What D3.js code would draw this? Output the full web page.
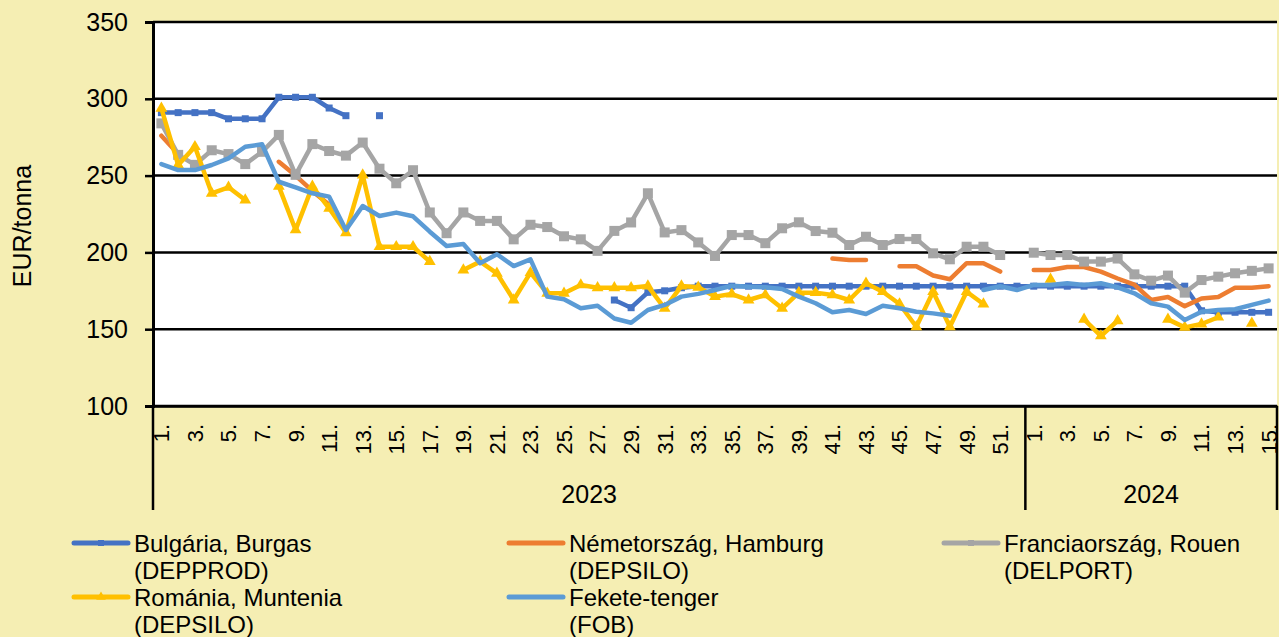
<!DOCTYPE html>
<html>
<head>
<meta charset="utf-8">
<script src="https://cdn.jsdelivr.net/npm/d3@7/dist/d3.min.js"></script>
<style>
  body { margin: 0; background: #f5eeb3; }
  svg { display: block; font-family: "Liberation Sans", Arial, sans-serif; }
</style>
</head>
<body>
<svg id="chart" width="1279" height="637"></svg>
<script>
// categories: weeks of 2023 and 2024
const years = ["2023", "2024"];
const weeks2023 = d3.range(1, 53);
const weeks2024 = d3.range(1, 16);
const yTicks = [100, 150, 200, 250, 300, 350];

// EUR/tonna (null = no quote that week)
const bulgaria2023 = [291, 291, 291, 291, 287, 287, 287, 301, 301, 301, 294, 289, null, 289,
  null, null, null, null, null, null, null, null, null, null, null, null, null,
  169, 164, 174, 175, 177,
  178, 178, 178, 178, 178, 178, 178, 178, 178, 178, 178, 178, 178, 178, 178, 178, 178, 178, 178, 178];
const bulgaria2024 = [178, 178, 178, 178, 178, 178, 178, 178, 178, 178, 162, 161, 161, 161, 161];

const hamburg2023 = [276, 264, null, null, null, null, null, 259, 250, 240, 231,
  null, null, null, null, null, null, null, null, null, null, null, null, null, null, null,
  null, null, null, null, null, null, null, null, null, null, null, null, null, null,
  196, 195, 195, null, 191, 191, 185, 182.5, 193, 193, 187.5, null];
const hamburg2024 = [188.5, 188.5, 190.5, 190.5, 187.5, 183, 179, 169, 171, 165, 170, 171, 177, 177, 178];

const rouen2023 = [284, 263.5, 257, 266.5, 264, 257.5, 265.5, 276.5, 250.5, 270.5, 266, 263, 271.5,
  254.5, 245, 253.5, 226, 212.5, 226, 220.5, 220.5, 208.5, 218, 216.5, 210.5, 208.5, 201, 214,
  219.5, 238.5, 213, 214.5, 206.5, 197.7, 211.3, 211.3, 206, 215.7, 219.6, 213.9, 212.8, 204.8,
  210.2, 204.8, 208.7, 208.7, 199.4, 195.5, 203.7, 203.7, 198.3, null];
const rouen2024 = [199.8, 198.3, 198.3, 194, 194, 196, 185.7, 181.6, 184.9, 173.8, 182, 184.2, 186.4, 188, 189.6];

const muntenia2023 = [293.8, 257, 268.8, 238.5, 242.4, 234.1, null, 243, 214.6, 243, 228.7, 212.8,
  250.4, 203.7, 203.7, 203.7, 194, null, 188.5, 194, 186.4, 169, 186.8, 173.4, 173.4, 178.8, 177,
  177, 177, 178.1, 163.6, 178.1, 177.3, 171.2, 172.9, 169, 172.3, 163.6, 173.8, 173.8, 172.3, 169,
  179.9, 174.4, 166.4, 151.6, 174.4, 151.6, 174.4, 166.4, null, null];
const muntenia2024 = [null, 182.5, null, 156.4, 145.6, 155.5, null, null, 156.4, 151.2, 153.4, 157.8, null, 153.8, null];

const fekete2023 = [257.5, 253.6, 253.6, 256.9, 261.2, 268.8, 270.4, 246, 242.4, 238.5, 236.3, 214.6,
  230.2, 223.7, 225.9, 223.5, 213.5, 204.2, 205.5, 192.9, 198.8, 191.1, 195.5, 171.2, 169.5, 163.6,
  165.3, 157, 154.2, 162.5, 165.8, 171.2, 173, 175.5, 178.3, 177.7, 177.3, 176.2, 171.2, 166.9, 161,
  162.5, 159.9, 165.3, 163.6, 161.4, 160.3, 158.8, null, 175.5, 178, 175.5];
const fekete2024 = [178.8, 178.8, 179.9, 178.8, 179.9, 177.3, 173.4, 166.9, 164.7, 156, 161.4, 162.5, 163, 165.8, 168.6];

const seriesNames = [
  ["Bulgária, Burgas", "(DEPPROD)"],
  ["Németország, Hamburg", "(DEPSILO)"],
  ["Franciaország, Rouen", "(DELPORT)"],
  ["Románia, Muntenia", "(DEPSILO)"],
  ["Fekete-tenger", "(FOB)"]
];

// build category list + series table
const cats = weeks2023.map(w => ({year: years[0], week: w}))
  .concat(weeks2024.map(w => ({year: years[1], week: w})));
cats.forEach((c, i) => c.key = i);

const styles = [
  {color: "#4472c4", marker: "square", size: 7},
  {color: "#ed7d31", marker: null},
  {color: "#a5a5a5", marker: "square", size: 10},
  {color: "#ffc000", marker: "triangle", size: 60},
  {color: "#5b9bd5", marker: null}
];
const series = [
  bulgaria2023.concat(bulgaria2024),
  hamburg2023.concat(hamburg2024),
  rouen2023.concat(rouen2024),
  muntenia2023.concat(muntenia2024),
  fekete2023.concat(fekete2024)
].map((vals, i) => ({
  name: seriesNames[i],
  style: styles[i],
  values: vals.map((v, j) => ({i: j, v: v}))
}));

// layout
const svg = d3.select("#chart");
const plotL = 153, plotR = 1277, plotT = 22, plotB = 406;

svg.append("rect").attr("width", 1279).attr("height", 637).attr("fill", "#f5eeb3");
svg.append("rect")
  .attr("x", plotL).attr("y", plotT)
  .attr("width", plotR - plotL).attr("height", plotB - plotT)
  .attr("fill", "#fff");

let x = d3.scaleBand().domain(cats.map(c => c.key)).range([plotL, plotR]);
let cx = i => x(i) + x.bandwidth() / 2;
let y = d3.scaleLinear().domain([100, 350]).range([plotB, plotT]);

// gridlines
svg.append("g").selectAll("line")
  .data(yTicks)
  .join("line")
  .attr("x1", plotL).attr("x2", plotR)
  .attr("y1", d => y(d)).attr("y2", d => y(d))
  .attr("stroke", "#000").attr("stroke-width", 2.5);

// y axis
let yAxis = svg.append("g")
  .attr("transform", `translate(${plotL},0)`)
  .call(d3.axisLeft(y).tickValues(yTicks).tickSize(8).tickPadding(17).tickFormat(d3.format("d")));
yAxis.select(".domain").attr("stroke", "#000").attr("stroke-width", 3);
yAxis.selectAll(".tick line").attr("stroke", "#000").attr("stroke-width", 2.5);
yAxis.selectAll("text").attr("font-size", 25).attr("font-family", null).attr("fill", "#000");

svg.append("text")
  .attr("transform", "translate(22,226) rotate(-90)")
  .attr("text-anchor", "middle")
  .attr("dy", "0.35em")
  .attr("font-size", 25)
  .text("EUR/tonna");

// x axis: odd weeks, rotated
let xAxis = svg.append("g")
  .attr("transform", `translate(0,${plotB})`)
  .call(d3.axisBottom(x)
    .tickValues(cats.filter(c => c.week % 2 === 1).map(c => c.key))
    .tickSize(0)
    .tickFormat(i => cats[i].week + "."));
xAxis.select(".domain").attr("stroke", "#000").attr("stroke-width", 2.5);
xAxis.selectAll("text")
  .attr("transform", "rotate(-90)")
  .attr("x", -18).attr("y", 0).attr("dy", "0.36em")
  .attr("text-anchor", "end")
  .attr("font-size", 22).attr("font-family", null).attr("fill", "#000");

// year groups
let splitX = x(weeks2023.length);
svg.append("g").selectAll("line")
  .data([plotL, splitX, plotR])
  .join("line")
  .attr("x1", d => d).attr("x2", d => d)
  .attr("y1", plotB).attr("y2", 510)
  .attr("stroke", "#000").attr("stroke-width", 2.5);
svg.append("g").selectAll("text")
  .data([[plotL, splitX, years[0]], [splitX, plotR, years[1]]])
  .join("text")
  .attr("x", d => (d[0] + d[1]) / 2)
  .attr("y", 503)
  .attr("text-anchor", "middle")
  .attr("font-size", 25)
  .text(d => d[2]);

// series
let line = d3.line()
  .defined(d => d.v != null)
  .x(d => cx(d.i))
  .y(d => y(d.v));

function drawMarker(sel, st) {
  if (st.marker === "square") {
    sel.append("rect")
      .attr("x", -st.size / 2).attr("y", -st.size / 2)
      .attr("width", st.size).attr("height", st.size)
      .attr("fill", st.color);
  } else if (st.marker === "triangle") {
    sel.append("path")
      .attr("d", d3.symbol(d3.symbolTriangle, st.size)())
      .attr("fill", st.color);
  }
}

series.forEach(function (s) {
  let g = svg.append("g");
  g.append("path")
    .attr("d", line(s.values))
    .attr("fill", "none")
    .attr("stroke", s.style.color)
    .attr("stroke-width", 4.5)
    .attr("stroke-linejoin", "round")
    .attr("stroke-linecap", "round");
  if (s.style.marker) {
    g.selectAll(".pt")
      .data(s.values.filter(d => d.v != null))
      .join("g")
      .attr("class", "pt")
      .attr("transform", d => `translate(${cx(d.i)},${y(d.v)})`)
      .each(function () { drawMarker(d3.select(this), s.style); });
  }
});

// legend
const legendCols = [74, 509, 944];
const legendRows = [552, 606];
let legend = svg.append("g").selectAll("g")
  .data(series)
  .join("g")
  .attr("transform", (d, i) => `translate(${legendCols[i % 3]},${legendRows[Math.floor(i / 3)]})`);

legend.append("line")
  .attr("x1", 0).attr("x2", 54)
  .attr("y1", -9).attr("y2", -9)
  .attr("stroke", d => d.style.color)
  .attr("stroke-width", 5)
  .attr("stroke-linecap", "round");
legend.each(function (d) {
  if (!d.style.marker) return;
  let st = Object.assign({}, d.style, {size: d.style.marker === "triangle" ? 40 : 6});
  drawMarker(d3.select(this).append("g").attr("transform", "translate(27,-9)"), st);
});
legend.append("text")
  .attr("x", 60)
  .attr("font-size", 24)
  .selectAll("tspan")
  .data(d => d.name)
  .join("tspan")
  .attr("x", 60)
  .attr("y", (d, i) => i * 26.5)
  .text(d => d);
</script>
</body>
</html>
